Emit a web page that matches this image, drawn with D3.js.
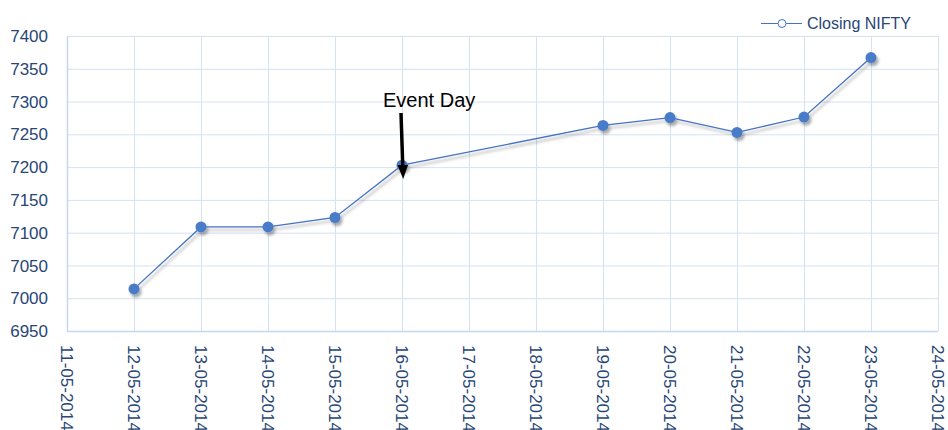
<!DOCTYPE html>
<html><head><meta charset="utf-8">
<script src="https://cdn.jsdelivr.net/npm/d3@7"></script>
<style>body{margin:0;background:#fff}svg{display:block}</style>
</head><body>
<svg id="c" width="948" height="430"></svg>
<script>
const dates = ["2014-05-12","2014-05-13","2014-05-14","2014-05-15","2014-05-16","2014-05-19","2014-05-20","2014-05-21","2014-05-22","2014-05-23"];
const closing = [7014.25,7108.75,7108.75,7123.15,7203.00,7263.55,7275.50,7252.90,7276.40,7367.10];
const yTicks = [6950,7000,7050,7100,7150,7200,7250,7300,7350,7400];
const xDomain = ["2014-05-11","2014-05-24"];
const seriesName = "Closing NIFTY";
const eventDate = "2014-05-16";
const eventLabel = "Event Day";

const parse = d3.timeParse("%Y-%m-%d");
const fmt = d3.timeFormat("%d-%m-%Y");
const svg = d3.select("#c");
const L=67,R=938,T=36,B=331;
const x = d3.scaleTime().domain(xDomain.map(parse)).range([L,R]);
const y = d3.scaleLinear().domain([6950,7400]).range([B,T]);
const txt = "#284677", grid="#d5e2f2", line="#4472c4";

const defs = svg.append("defs");
const f = defs.append("filter").attr("id","sh").attr("x","-50%").attr("y","-50%").attr("width","200%").attr("height","200%");
f.append("feDropShadow").attr("dx",2).attr("dy",3).attr("stdDeviation",1.8).attr("flood-color","#000").attr("flood-opacity",0.35);

const xTicks = d3.timeDay.range(parse(xDomain[0]), d3.timeDay.offset(parse(xDomain[1]),1));
// gridlines
svg.append("g").selectAll("line").data(yTicks).join("line")
  .attr("x1",L).attr("x2",R).attr("y1",d=>y(d)+0.5).attr("y2",d=>y(d)+0.5)
  .attr("stroke",grid).attr("stroke-width",1);
svg.append("g").selectAll("line").data(xTicks).join("line")
  .attr("x1",d=>Math.round(x(d))+0.5).attr("x2",d=>Math.round(x(d))+0.5).attr("y1",T).attr("y2",B)
  .attr("stroke",grid).attr("stroke-width",1);
// axis borders
svg.append("line").attr("x1",L+0.5).attr("x2",L+0.5).attr("y1",T).attr("y2",B+0.5).attr("stroke","#c5d8ef").attr("stroke-width",1.5);
svg.append("line").attr("x1",L).attr("x2",R).attr("y1",B+0.5).attr("y2",B+0.5).attr("stroke","#c5d8ef").attr("stroke-width",1.5);

// y labels
svg.append("g").selectAll("text").data(yTicks).join("text")
  .attr("x",48).attr("y",d=>y(d)).attr("dy","0.36em").attr("text-anchor","end")
  .attr("font-family","Liberation Sans, Arial, sans-serif").attr("font-size",17).attr("fill",txt).text(d=>d);
// x labels
svg.append("g").selectAll("text").data(xTicks).join("text")
  .attr("transform",d=>`translate(${x(d)},345) rotate(90)`).attr("dy","0.36em").attr("text-anchor","start")
  .attr("font-family","Liberation Sans, Arial, sans-serif").attr("font-size",17).attr("fill",txt).text(d=>fmt(d));

const data = dates.map((d,i)=>({d:parse(d),v:closing[i]}));
const g = svg.append("g").attr("filter","url(#sh)");
g.append("path").datum(data).attr("d",d3.line().x(d=>x(d.d)).y(d=>y(d.v)))
  .attr("fill","none").attr("stroke",line).attr("stroke-width",1.3);
g.selectAll("circle").data(data).join("circle")
  .attr("cx",d=>x(d.d)).attr("cy",d=>y(d.v)).attr("r",5.5).attr("fill","#4a7cc8");

// event annotation
const ex = x(parse(eventDate));
svg.append("text").attr("x",ex-19).attr("y",107).attr("font-family","Liberation Sans, Arial, sans-serif")
  .attr("font-size",20).attr("fill","#000").text(eventLabel);
svg.append("line").attr("x1",ex-1).attr("y1",113).attr("x2",ex+0.8).attr("y2",167)
  .attr("stroke","#000").attr("stroke-width",3.5);
svg.append("path").attr("d",`M${ex-4.5},165 L${ex+6},165 L${ex+1.2},179 Z`).attr("fill","#000");

// legend
const lg = svg.append("g");
lg.append("line").attr("x1",761).attr("x2",802).attr("y1",23.5).attr("y2",23.5).attr("stroke",line).attr("stroke-width",1.2);
lg.append("circle").attr("cx",782).attr("cy",23.5).attr("r",4).attr("fill","#fff").attr("stroke",line).attr("stroke-width",1);
lg.append("text").attr("x",807).attr("y",23.5).attr("dy","0.36em").attr("font-family","Liberation Sans, Arial, sans-serif")
  .attr("font-size",16).attr("fill",txt).text(seriesName);
</script>
</body></html>
